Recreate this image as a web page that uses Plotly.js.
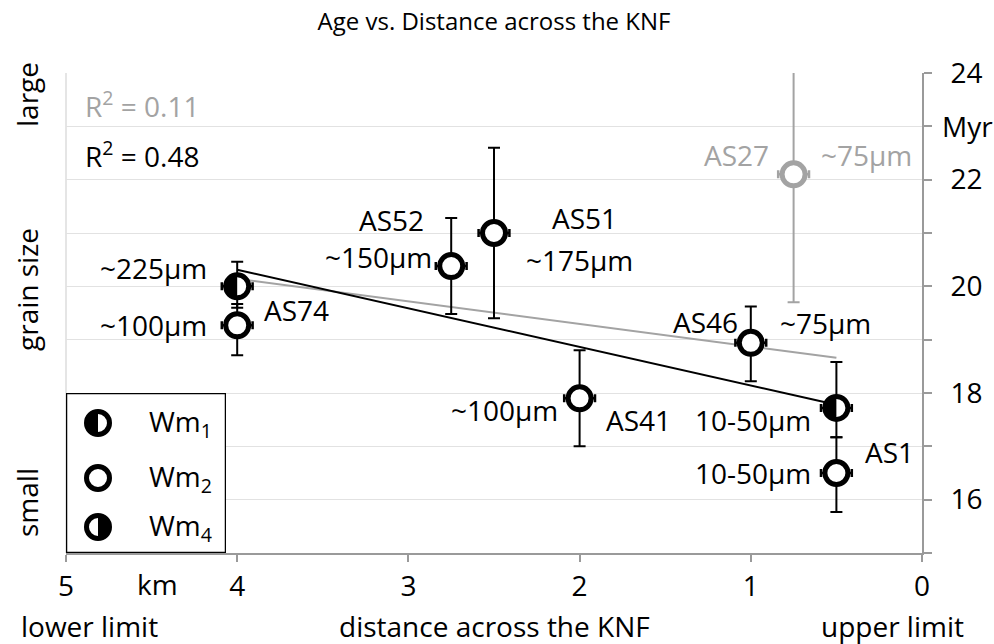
<!DOCTYPE html>
<html>
<head>
<meta charset="utf-8">
<script src="https://cdn.plot.ly/plotly-3.0.1.min.js"></script>
<style>html,body{margin:0;padding:0;background:#fff;}#chart{width:994px;height:644px;}</style>
</head>
<body>
<div id="chart"></div>
<script>
// ---------------- data ----------------
const xTickVals = [0, 1, 2, 3, 4, 5];
const yTickVals = [15, 16, 17, 18, 19, 20, 21, 22, 23, 24];
const yTickText = ['', '16', '', '18', '', '20', '', '22', '', '24'];

const wm2Names = ['AS74', 'AS52', 'AS51', 'AS41', 'AS46', 'AS1'];
const wm2Dist = [4, 2.75, 2.5, 2, 1, 0.5];
const wm2Age = [19.27, 20.38, 21.0, 17.9, 18.94, 16.5];
const wm2ErrPlus = [0.4, 0.9, 1.6, 0.9, 0.68, 0.67];
const wm2ErrMinus = [0.56, 0.9, 1.6, 0.9, 0.72, 0.73];
const wm2Grain = ['~100µm', '~150µm', '~175µm', '~100µm', '~75µm', '10-50µm'];

const wm1Names = ['AS74', 'AS1'];
const wm1Dist = [4, 0.5];
const wm1Age = [20.0, 17.72];
const wm1ErrPlus = [0.46, 0.86];
const wm1ErrMinus = [0.4, 0.55];
const wm1Grain = ['~225µm', '10-50µm'];

const greyNames = ['AS27'];
const greyDist = [0.75];
const greyAge = [22.1];
const greyErrPlus = [2.4];
const greyErrMinus = [2.4];
const greyGrain = ['~75µm'];

const fitBlackDist = [4, 0.5];
const fitBlackAge = [20.31, 17.78];
const fitGreyDist = [4, 0.5];
const fitGreyAge = [20.14, 18.66];
const r2Black = '0.48';
const r2Grey = '0.11';

const legendNames = ['Wm<sub>1</sub>', 'Wm<sub>2</sub>', 'Wm<sub>4</sub>'];

// ---------------- layout geometry ----------------
const W = 994, H = 644;
const M = {l: 66, r: 72, t: 73, b: 91};
const xRange = [5, 0];
const yRange = [15, 24];
const plotW = W - M.l - M.r, plotH = H - M.t - M.b;
const kx = plotW / Math.abs(xRange[0] - xRange[1]);
const ky = plotH / Math.abs(yRange[1] - yRange[0]);
const FONT = 'Open Sans, Noto Sans, sans-serif';
const GREY = '#a3a3a3';
const AXGREY = '#9a9a9a';
const FS = 28;

// half-filled disk as polygon (side: 'left' or 'right')
function halfDisk(x0, y0, side, sx, sy) {
  const xs = [], ys = [];
  const r = 10;
  const sgn = (side === 'left') ? 1 : -1;
  for (let k = 0; k <= 40; k++) {
    const t = -Math.PI / 2 + Math.PI * k / 40;
    xs.push(x0 + sgn * r * Math.cos(t) / sx);
    ys.push(y0 + r * Math.sin(t) / sy);
  }
  xs.push(xs[0]); ys.push(ys[0]);
  return {xs, ys};
}

const markerStyle = (col) => ({symbol: 'circle', size: 23, color: 'white', line: {color: col, width: 5}});
const errY = (plus, minus, col) => ({type: 'data', symmetric: false, array: plus, arrayminus: minus, color: col, thickness: 2, width: 6});
const errX = (col) => ({type: 'constant', value: 0.09, color: col, thickness: 2.5, width: 4});

const traces = [];
traces.push({x: fitGreyDist, y: fitGreyAge, mode: 'lines', line: {color: GREY, width: 2}, hoverinfo: 'skip', showlegend: false});
traces.push({x: fitBlackDist, y: fitBlackAge, mode: 'lines', line: {color: 'black', width: 2}, hoverinfo: 'skip', showlegend: false});
traces.push({x: greyDist, y: greyAge, text: greyNames, mode: 'markers', marker: markerStyle(GREY),
  error_y: errY(greyErrPlus, greyErrMinus, GREY), error_x: errX(GREY), cliponaxis: false, showlegend: false});
traces.push({x: wm2Dist, y: wm2Age, text: wm2Names, mode: 'markers', marker: markerStyle('black'),
  error_y: errY(wm2ErrPlus, wm2ErrMinus, 'black'), error_x: errX('black'), cliponaxis: false, showlegend: false});
traces.push({x: wm1Dist, y: wm1Age, text: wm1Names, mode: 'markers', marker: markerStyle('black'),
  error_y: errY(wm1ErrPlus, wm1ErrMinus, 'black'), error_x: errX('black'), cliponaxis: false, showlegend: false});
// Wm1: left half black (x axis reversed -> left = larger km)
wm1Dist.forEach((d, i) => {
  const h = halfDisk(d, wm1Age[i], 'left', kx, ky);
  traces.push({x: h.xs, y: h.ys, mode: 'lines', fill: 'toself', fillcolor: 'black', line: {width: 0}, hoverinfo: 'skip', showlegend: false});
});

// ---------------- custom legend in its own small subplot (1 unit = 1 px) ----------------
const LW = 160, LH = 160;
const legY = [130, 75, 26];
const legX = [32, 32, 32];
traces.push({x: legX, y: legY, xaxis: 'x2', yaxis: 'y2', mode: 'markers', marker: markerStyle('black'), hoverinfo: 'skip', showlegend: false, cliponaxis: false});
{
  const h1 = halfDisk(legX[0], legY[0], 'right', 1, 1); // non-reversed axis: 'right' sign -> left half
  traces.push({x: h1.xs, y: h1.ys, xaxis: 'x2', yaxis: 'y2', mode: 'lines', fill: 'toself', fillcolor: 'black', line: {width: 0}, hoverinfo: 'skip', showlegend: false});
  const h4 = halfDisk(legX[2], legY[2], 'left', 1, 1);
  traces.push({x: h4.xs, y: h4.ys, xaxis: 'x2', yaxis: 'y2', mode: 'lines', fill: 'toself', fillcolor: 'black', line: {width: 0}, hoverinfo: 'skip', showlegend: false});
}

// ---------------- annotations ----------------
const ann = [];
function lab(x, y, text, xanchor, xs, ys, col) {
  ann.push({x: x, y: y, xref: 'x', yref: 'y', text: text, showarrow: false, xanchor: xanchor, yanchor: 'middle',
    xshift: xs, yshift: ys, font: {family: FONT, size: FS, color: col || 'black'}});
}
lab(wm2Dist[0], wm2Age[0], wm2Grain[0], 'right', -28, 0);
lab(wm2Dist[0], wm2Age[0], wm2Names[0], 'left', 25, 15);
lab(wm2Dist[1], wm2Age[1], wm2Names[1], 'right', -25, 46);
lab(wm2Dist[1], wm2Age[1], wm2Grain[1], 'right', -17, 9);
lab(wm2Dist[2], wm2Age[2], wm2Names[2], 'left', 56, 15);
lab(wm2Dist[2], wm2Age[2], wm2Grain[2], 'left', 30, -27);
lab(wm2Dist[3], wm2Age[3], wm2Grain[3], 'right', -20, -12);
lab(wm2Dist[3], wm2Age[3], wm2Names[3], 'left', 24, -22);
lab(wm2Dist[4], wm2Age[4], wm2Names[4], 'right', -11, 21);
lab(wm2Dist[4], wm2Age[4], wm2Grain[4], 'left', 27, 20);
lab(wm2Dist[5], wm2Age[5], wm2Grain[5], 'right', -23, 0);
lab(wm2Dist[5], wm2Age[5], wm2Names[5], 'left', 27, 21);
lab(wm1Dist[0], wm1Age[0], wm1Grain[0], 'right', -28, 18);
lab(wm1Dist[1], wm1Age[1], wm1Grain[1], 'right', -23, -12);
lab(greyDist[0], greyAge[0], greyNames[0], 'right', -23, 19, GREY);
lab(greyDist[0], greyAge[0], greyGrain[0], 'left', 25, 19, GREY);

const px = (p) => (p - M.l) / plotW;
const py = (p) => (H - M.b - p) / plotH;
function pann(xp, yp, text, opts) {
  ann.push(Object.assign({x: px(xp), y: py(yp), xref: 'paper', yref: 'paper', text: text, showarrow: false,
    xanchor: 'center', yanchor: 'middle', font: {family: FONT, size: FS, color: 'black'}}, opts || {}));
}
pann(83, 104, 'R<sup>2</sup> = ' + r2Grey, {xanchor: 'left', font: {family: FONT, size: FS, color: GREY}});
pann(83, 155, 'R<sup>2</sup> = ' + r2Black, {xanchor: 'left'});
pann(27, 95, 'large', {textangle: -90});
pann(27, 290, 'grain size', {textangle: -90});
pann(27, 503, 'small', {textangle: -90});
pann(157, 584, 'km');
pann(89, 626, 'lower limit');
pann(494, 626, 'distance across the KNF');
pann(892, 626, 'upper limit');
ann.push({x: 1, xref: 'paper', xanchor: 'left', xshift: 18, y: 23, yref: 'y', yanchor: 'middle', text: 'Myr', showarrow: false,
  font: {family: FONT, size: FS, color: 'black'}});
legendNames.forEach((t, i) => {
  ann.push({x: 81, y: legY[i], xref: 'x2', yref: 'y2', xanchor: 'left', yanchor: 'middle', text: t, showarrow: false,
    font: {family: FONT, size: FS, color: 'black'}});
});

const layout = {
  width: W, height: H,
  margin: M,
  paper_bgcolor: 'white', plot_bgcolor: 'white',
  showlegend: false,
  title: {text: 'Age vs. Distance across the KNF', x: 0.497, xanchor: 'center', y: 0.966, yanchor: 'middle',
    font: {family: FONT, size: 24, color: 'black'}},
  xaxis: {range: xRange, tickvals: xTickVals, ticktext: xTickVals.map(String), showgrid: false, zeroline: false,
    showline: true, linecolor: AXGREY, linewidth: 2, ticks: 'outside', ticklen: 7, tickwidth: 2, tickcolor: AXGREY,
    tickfont: {family: FONT, size: FS, color: 'black'}, fixedrange: true},
  yaxis: {range: yRange, side: 'right', tickvals: yTickVals, ticktext: yTickText, showgrid: true, gridcolor: '#e2e2e2', gridwidth: 1,
    zeroline: false, showline: true, linecolor: AXGREY, linewidth: 2, ticks: 'outside', ticklen: 8, tickwidth: 2, tickcolor: AXGREY,
    ticklabelstandoff: 13, tickfont: {family: FONT, size: FS, color: 'black'}, fixedrange: true},
  xaxis2: {domain: [0, LW / plotW], range: [0, LW], anchor: 'y2', visible: false, fixedrange: true},
  yaxis2: {domain: [0, LH / plotH], range: [0, LH], anchor: 'x2', visible: false, fixedrange: true},
  shapes: [
    {type: 'line', xref: 'paper', yref: 'paper', x0: 0, x1: 0, y0: 0, y1: 1, line: {color: '#dcdcdc', width: 1.5}, layer: 'below'},
    {type: 'rect', xref: 'x2', yref: 'y2', x0: 0, x1: LW, y0: 0, y1: LH, line: {color: 'black', width: 2.5}, fillcolor: 'white', layer: 'between'}
  ],
  annotations: ann
};

Plotly.newPlot('chart', traces, layout, {staticPlot: true, displayModeBar: false});
</script>
</body>
</html>
